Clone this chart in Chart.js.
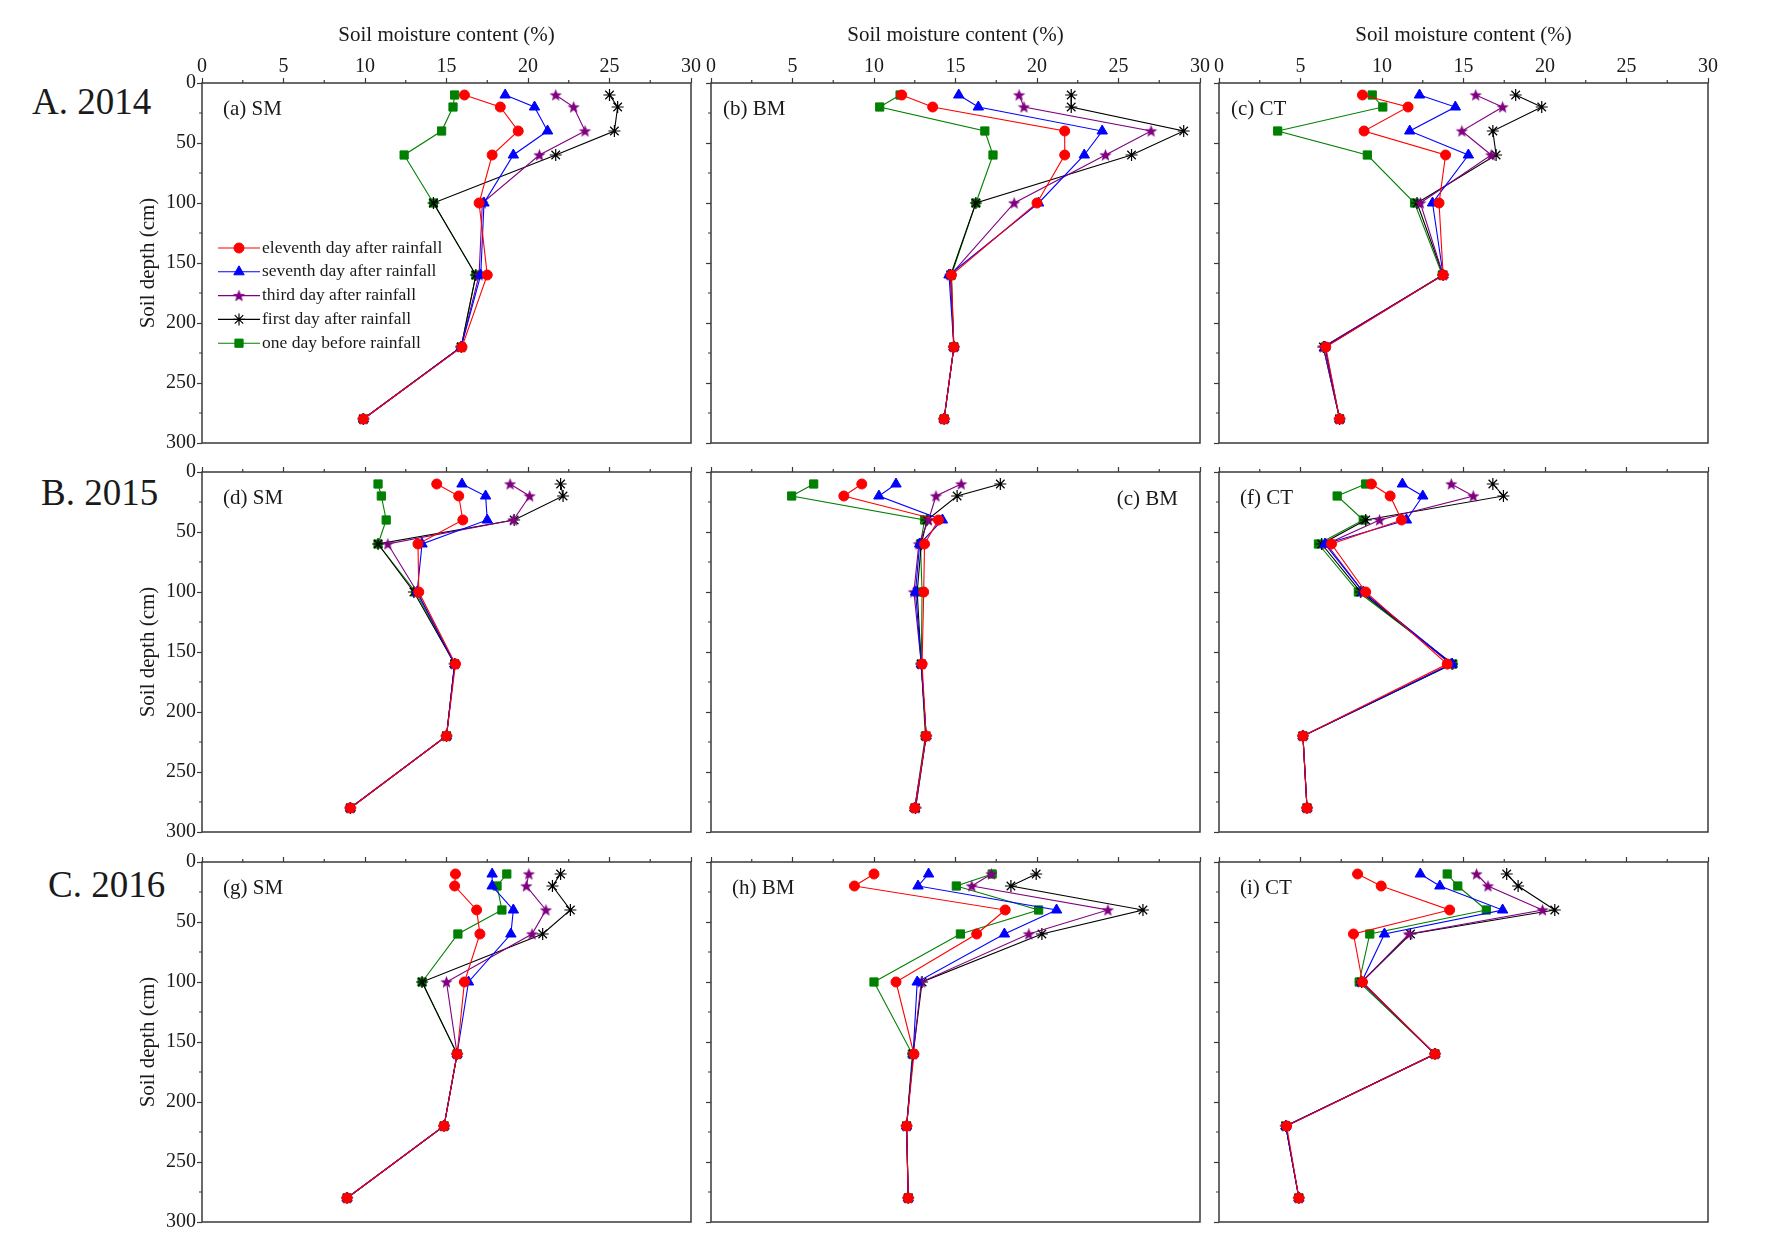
<!DOCTYPE html>
<html>
<head>
<meta charset="utf-8">
<title>Soil moisture profiles after rainfall</title>
<script src="https://cdn.jsdelivr.net/npm/chart.js@4.4.1/dist/chart.umd.min.js"></script>
<style>
  body { margin: 0; background: #fff; }
  #figure {
    position: relative; width: 1776px; height: 1259px; background: #fff; overflow: hidden;
    font-family: "Liberation Serif", "Times New Roman", serif; color: #1a1a1a;
  }
  #figure canvas { position: absolute; }
  .year { position: absolute; font-size: 37px; line-height: 1; white-space: nowrap; }
</style>
</head>
<body>
<div id="figure">
  <div class="year" style="left:32px; top:83px">A. 2014</div>
  <div class="year" style="left:41px; top:474px">B. 2015</div>
  <div class="year" style="left:48px; top:866px">C. 2016</div>
</div>
<script>
// Sampling depths (cm) and tick labels
const depths = [10, 20, 40, 60, 100, 160, 220, 280];
const moistureTicks = [0, 5, 10, 15, 20, 25, 30];
const depthTicks = [0, 50, 100, 150, 200, 250, 300];

const seriesLabels = [
  "eleventh day after rainfall",
  "seventh day after rainfall",
  "third day after rainfall",
  "first day after rainfall",
  "one day before rainfall",
];

// Soil moisture (%) per panel, rows follow seriesLabels, columns follow depths
const sm2014 = [
  [16.1, 18.3, 19.4, 17.8, 17.0, 17.5, 15.95, 9.9],
  [18.6, 20.4, 21.2, 19.1, 17.3, 17.1, 15.9, 9.9],
  [21.7, 22.8, 23.5, 20.7, 17.2, 17.0, 15.9, 9.9],
  [25.0, 25.5, 25.3, 21.7, 14.2, 16.8, 15.9, 9.9],
  [15.5, 15.4, 14.7, 12.4, 14.2, 16.8, 15.9, 9.9],
];
const bm2014 = [
  [11.7, 13.6, 21.7, 21.7, 20.0, 14.75, 14.9, 14.3],
  [15.2, 16.4, 24.0, 22.9, 20.1, 14.6, 14.9, 14.3],
  [18.9, 19.2, 27.0, 24.2, 18.6, 14.7, 14.9, 14.3],
  [22.1, 22.1, 29.0, 25.8, 16.25, 14.7, 14.9, 14.3],
  [11.6, 10.35, 16.8, 17.3, 16.25, 14.75, 14.9, 14.3],
];
const ct2014 = [
  [8.8, 11.6, 8.9, 13.9, 13.5, 13.75, 6.55, 7.4],
  [12.3, 14.5, 11.7, 15.3, 13.1, 13.75, 6.5, 7.4],
  [15.75, 17.4, 14.9, 16.7, 12.35, 13.75, 6.4, 7.4],
  [18.2, 19.8, 16.8, 17.0, 12.15, 13.75, 6.4, 7.4],
  [9.4, 10.05, 3.6, 9.1, 12.0, 13.7, 6.5, 7.4],
];
const sm2015 = [
  [14.4, 15.75, 16.0, 13.25, 13.3, 15.55, 15.0, 9.1],
  [15.95, 17.4, 17.5, 13.5, 13.2, 15.5, 15.0, 9.1],
  [18.9, 20.1, 19.1, 11.4, 13.2, 15.5, 15.0, 9.1],
  [22.0, 22.15, 19.15, 10.8, 13.0, 15.5, 15.0, 9.1],
  [10.8, 11.0, 11.3, 10.8, 13.1, 15.5, 15.0, 9.1],
];
const bm2015 = [
  [9.25, 8.15, 13.95, 13.1, 13.05, 12.95, 13.2, 12.5],
  [11.35, 10.3, 14.2, 12.8, 12.55, 12.9, 13.2, 12.5],
  [15.35, 13.8, 13.35, 12.75, 12.45, 12.9, 13.2, 12.55],
  [17.75, 15.1, 13.25, 12.9, 12.65, 12.9, 13.2, 12.55],
  [6.3, 4.95, 13.1, 12.85, 12.95, 12.9, 13.15, 12.5],
];
const ct2015 = [
  [9.35, 10.5, 11.2, 6.9, 9.0, 14.0, 5.15, 5.4],
  [11.25, 12.5, 11.5, 6.5, 8.85, 14.3, 5.15, 5.4],
  [14.25, 15.6, 9.85, 6.6, 8.85, 14.2, 5.15, 5.4],
  [16.8, 17.45, 9.0, 6.3, 8.7, 14.3, 5.15, 5.4],
  [9.0, 7.25, 8.85, 6.1, 8.55, 14.35, 5.15, 5.4],
];
const sm2016 = [
  [15.55, 15.5, 16.85, 17.05, 16.1, 15.65, 14.85, 8.9],
  [17.8, 17.8, 19.1, 18.95, 16.35, 15.65, 14.85, 8.9],
  [20.05, 19.9, 21.1, 20.25, 15.0, 15.65, 14.85, 8.9],
  [22.0, 21.5, 22.6, 20.9, 13.5, 15.65, 14.85, 8.9],
  [18.7, 18.1, 18.4, 15.7, 13.5, 15.65, 14.85, 8.9],
];
const bm2016 = [
  [10.0, 8.8, 18.05, 16.3, 11.35, 12.45, 12.0, 12.1],
  [13.35, 12.7, 21.2, 18.0, 12.65, 12.4, 12.0, 12.1],
  [17.2, 16.0, 24.35, 19.5, 12.9, 12.4, 12.0, 12.1],
  [19.95, 18.4, 26.5, 20.3, 12.95, 12.4, 12.0, 12.1],
  [17.25, 15.05, 20.1, 15.3, 10.0, 12.35, 12.0, 12.1],
];
const ct2016 = [
  [8.5, 9.95, 14.15, 8.25, 8.8, 13.25, 4.15, 4.9],
  [12.35, 13.55, 17.4, 10.15, 8.75, 13.25, 4.1, 4.9],
  [15.8, 16.5, 19.85, 11.65, 8.75, 13.25, 4.1, 4.9],
  [17.65, 18.35, 20.6, 11.75, 8.75, 13.25, 4.1, 4.9],
  [14.0, 14.65, 16.4, 9.25, 8.6, 13.25, 4.1, 4.9],
];

const panelValues = [sm2014, bm2014, ct2014, sm2015, bm2015, ct2015, sm2016, bm2016, ct2016];
const panelNames = ["(a) SM", "(b) BM", "(c) CT", "(d) SM", "(c) BM", "(f) CT", "(g) SM", "(h) BM", "(i) CT"];

// Styling
const FONT = "Liberation Serif";
const TEXT = "#1a1a1a";
const AXIS = "#3a3a3a";
const colors = ["#ff0000", "#0000ff", "#800080", "#000000", "#008000"];

// filled five point star for the "third day" series
function starImage(color, r) {
  const size = Math.ceil(r * 2 + 2);
  const c = document.createElement("canvas");
  c.width = size;
  c.height = size;
  const g = c.getContext("2d");
  g.fillStyle = color;
  g.beginPath();
  for (let i = 0; i < 10; i++) {
    const rad = i % 2 === 0 ? r : r * 0.42;
    const a = -Math.PI / 2 + (i * Math.PI) / 5;
    g.lineTo(size / 2 + rad * Math.cos(a), size / 2 + rad * Math.sin(a) + 0.5);
  }
  g.closePath();
  g.fill();
  return c;
}

const markers = ["circle", "triangle", starImage("#800080", 6.5), "star", "rect"];
const markerRadius = [5, 6, 6, 6, 5.8];

Chart.defaults.font.family = FONT;
Chart.defaults.color = TEXT;

// panel geometry (plot box)
const colLeft = [202, 711, 1219];
const rowTop = [83, 472, 862];
const plotW = 489;
const plotH = 360;
const axisW = 95; // room left of the plot
const axisH = 65; // room above the plot

// frame, minor ticks, panel label and legend
const panelDecor = {
  id: "panelDecor",
  afterDraw(chart, args, opts) {
    const { ctx, chartArea: a, scales } = chart;
    ctx.save();
    ctx.strokeStyle = AXIS;
    ctx.lineWidth = 1.2;
    // minor ticks
    ctx.beginPath();
    scales.x.ticks.forEach((t) => {
      if (t.value % 5 !== 0) {
        const x = scales.x.getPixelForValue(t.value);
        ctx.moveTo(x, a.top);
        ctx.lineTo(x, a.top - 3);
      }
    });
    scales.y.ticks.forEach((t) => {
      if (t.value % 50 !== 0) {
        const y = scales.y.getPixelForValue(t.value);
        ctx.moveTo(a.left, y);
        ctx.lineTo(a.left - 3, y);
      }
    });
    ctx.stroke();
    // box
    ctx.lineWidth = 1.5;
    ctx.strokeRect(a.left, a.top, a.right - a.left, a.bottom - a.top);

    // panel label
    ctx.fillStyle = TEXT;
    ctx.font = `21px "${FONT}"`;
    ctx.textBaseline = "middle";
    if (opts.alignRight) {
      ctx.textAlign = "right";
      ctx.fillText(opts.name, a.right - 22, a.top + 27);
    } else {
      ctx.textAlign = "left";
      ctx.fillText(opts.name, a.left + opts.offsetX, a.top + 26);
    }

    // legend with line + marker
    if (opts.legend) {
      ctx.font = `17.5px "${FONT}"`;
      ctx.textAlign = "left";
      chart.data.datasets.forEach((ds, i) => {
        const y = a.top + 165 + i * 23.8;
        const x1 = a.left + 16;
        const x2 = a.left + 58;
        ctx.strokeStyle = ds.borderColor;
        ctx.lineWidth = ds.borderWidth;
        ctx.beginPath();
        ctx.moveTo(x1, y);
        ctx.lineTo(x2, y);
        ctx.stroke();
        ctx.fillStyle = ds.pointBackgroundColor;
        ctx.strokeStyle = ds.pointBorderColor;
        ctx.lineWidth = ds.pointBorderWidth;
        Chart.helpers.drawPoint(ctx, {
          pointStyle: ds.pointStyle,
          radius: ds.pointRadius,
          rotation: 0,
          borderWidth: ds.pointBorderWidth,
        }, (x1 + x2) / 2, y);
        ctx.fillStyle = TEXT;
        ctx.fillText(ds.label, x2 + 2, y);
      });
    }
    ctx.restore();
  },
};

function makePanel(idx) {
  const row = Math.floor(idx / 3);
  const col = idx % 3;
  const canvas = document.createElement("canvas");
  canvas.width = axisW + plotW + 25;
  canvas.height = axisH + plotH + 15;
  canvas.style.left = colLeft[col] - axisW + "px";
  canvas.style.top = rowTop[row] - axisH + "px";
  document.getElementById("figure").appendChild(canvas);

  const values = panelValues[idx];
  const datasets = seriesLabels.map((name, s) => ({
    label: name,
    data: depths.map((d, k) => ({ x: values[s][k], y: d })),
    showLine: true,
    borderColor: colors[s],
    backgroundColor: colors[s],
    borderWidth: 1.1,
    pointStyle: markers[s],
    pointRadius: markerRadius[s],
    pointBackgroundColor: colors[s],
    pointBorderColor: colors[s],
    pointBorderWidth: s === 3 ? 1.2 : 1,
  }));

  const majorTick = (step) => (c) =>
    c.tick && Math.abs(c.tick.value % step) < 1e-9 ? AXIS : "rgba(0,0,0,0)";

  new Chart(canvas, {
    type: "scatter",
    data: { datasets },
    options: {
      responsive: false,
      animation: false,
      layout: { padding: { right: 25, bottom: 15, left: 0, top: 0 } },
      plugins: {
        legend: { display: false },
        tooltip: { enabled: false },
        panelDecor: {
          name: panelNames[idx],
          alignRight: idx === 4,
          offsetX: idx === 1 || idx === 2 ? 12 : 21,
          legend: idx === 0,
        },
      },
      scales: {
        x: {
          type: "linear",
          position: "top",
          min: 0,
          max: 30,
          afterFit: (s) => { s.height = axisH; },
          ticks: {
            display: row === 0,
            stepSize: 2.5,
            autoSkip: false,
            maxRotation: 0,
            padding: -1,
            color: TEXT,
            font: { size: 20 },
            callback: (v) => (moistureTicks.includes(v) ? String(v) : ""),
          },
          grid: {
            drawOnChartArea: false,
            drawTicks: true,
            tickLength: 5,
            tickWidth: 1.2,
            tickColor: majorTick(5),
          },
          border: { display: false },
          title: {
            display: row === 0,
            text: "Soil moisture content (%)",
            color: TEXT,
            font: { size: 21 },
            padding: { top: 5, bottom: 0 },
          },
        },
        y: {
          type: "linear",
          reverse: true,
          min: 0,
          max: 300,
          afterFit: (s) => { s.width = axisW; },
          ticks: {
            display: col === 0,
            stepSize: 25,
            autoSkip: false,
            padding: 1,
            color: TEXT,
            font: { size: 20 },
            callback: (v) => (depthTicks.includes(v) ? String(v) : ""),
          },
          grid: {
            drawOnChartArea: false,
            drawTicks: true,
            tickLength: 5,
            tickWidth: 1.2,
            tickColor: majorTick(50),
          },
          border: { display: false },
          title: {
            display: col === 0,
            text: "Soil depth (cm)",
            color: TEXT,
            font: { size: 21 },
            padding: { top: 29, bottom: 0 },
          },
        },
      },
    },
    plugins: [panelDecor],
  });
}

for (let i = 0; i < 9; i++) makePanel(i);
</script>
</body>
</html>
